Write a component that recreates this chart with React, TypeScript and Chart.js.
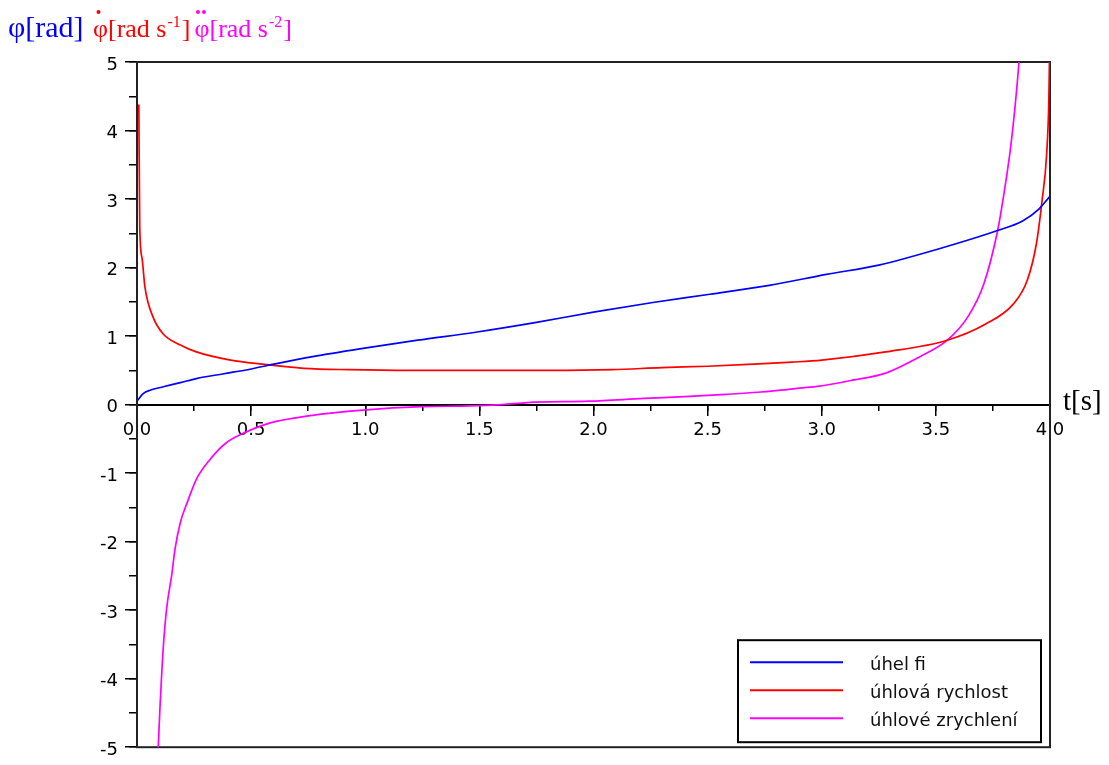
import React, { useEffect, useRef } from "react";
import { Chart, registerables } from "chart.js";

Chart.register(...registerables);

// ---- data ----
const phiT = [0, 0.027, 0.057, 0.115, 0.19, 0.26, 0.38, 0.5, 0.6, 0.77, 0.99, 1.23, 1.49, 1.75, 2.0, 2.26, 2.51, 2.77, 3.02, 3.255, 3.5, 3.77, 3.88, 3.95, 4.0];
const phiV = [0.05, 0.16, 0.21, 0.26, 0.32, 0.38, 0.45, 0.52, 0.59, 0.7, 0.82, 0.94, 1.06, 1.2, 1.35, 1.49, 1.61, 1.74, 1.9, 2.04, 2.26, 2.54, 2.68, 2.85, 3.04];

const omegaT = [0.008, 0.012, 0.022, 0.035, 0.07, 0.115, 0.19, 0.26, 0.41, 0.55, 0.73, 0.93, 1.2, 1.5, 1.8, 2.08, 2.3, 2.5, 2.7, 2.87, 3.0, 3.28, 3.55, 3.72, 3.84, 3.9, 3.94, 3.965, 3.985, 3.995, 4.0];
const omegaV = [4.38, 2.6, 2.14, 1.71, 1.28, 1.03, 0.87, 0.77, 0.65, 0.59, 0.53, 0.51, 0.5, 0.5, 0.5, 0.51, 0.54, 0.56, 0.59, 0.62, 0.65, 0.77, 0.94, 1.18, 1.47, 1.81, 2.34, 2.97, 3.64, 4.46, 5.6];

const alphaT = [0.085, 0.093, 0.1, 0.115, 0.13, 0.152, 0.167, 0.19, 0.22, 0.26, 0.32, 0.39, 0.465, 0.58, 0.76, 0.99, 1.25, 1.46, 1.6, 1.71, 1.98, 2.22, 2.42, 2.58, 2.72, 2.82, 2.9, 2.99, 3.14, 3.28, 3.43, 3.55, 3.64, 3.71, 3.77, 3.795, 3.825, 3.846, 3.864, 3.875];
const alphaV = [-5.7, -5.0, -4.47, -3.55, -2.97, -2.49, -2.1, -1.72, -1.43, -1.09, -0.8, -0.56, -0.42, -0.27, -0.16, -0.08, -0.03, -0.02, 0.0, 0.03, 0.05, 0.09, 0.12, 0.15, 0.18, 0.21, 0.24, 0.27, 0.36, 0.46, 0.7, 0.94, 1.28, 1.76, 2.53, 3.01, 3.69, 4.32, 5.0, 5.6];

const seriesLabels = ["úhel fi", "úhlová rychlost", "úhlové zrychlení"];
const PHI_COLOR = "#0000ff";
const OMEGA_COLOR = "#ff0000";
const ALPHA_COLOR = "#ff00ff";

const X_MIN = 0;
const X_MAX = 4;
const Y_MIN = -5;
const Y_MAX = 5;

const toPoints = (ts: number[], vs: number[]) => ts.map((t, i) => ({ x: t, y: vs[i] }));

const TICK_FONT = { family: "DejaVu Sans", size: 18 };

const framePlugin = {
  id: "frame",
  beforeDatasetsDraw(chart: any) {
    const { left, right, top, bottom } = chart.chartArea;
    const ctx = chart.ctx;
    ctx.save();
    ctx.strokeStyle = "#222";
    ctx.lineWidth = 2;
    ctx.strokeRect(left, top, right - left, bottom - top);
    ctx.restore();
  },
};

const titlePlugin = {
  id: "titles",
  afterDraw(chart: any) {
    const ctx = chart.ctx;
    const { right } = chart.chartArea;
    const y0 = chart.scales.y.getPixelForValue(0);
    ctx.save();
    ctx.textAlign = "left";
    ctx.textBaseline = "alphabetic";
    const base = 37;
    ctx.font = '30px "Liberation Serif"';
    ctx.fillStyle = PHI_COLOR;
    ctx.fillText("φ[rad]", 8, base);

    const drawUnit = (dots: number[], sup: string, color: string, startX: number) => {
      let cx = startX;
      ctx.fillStyle = color;
      ctx.font = '26px "Liberation Serif"';
      const phiW = ctx.measureText("φ").width;
      ctx.fillText("φ", cx, base);
      dots.forEach((dx) => {
        ctx.beginPath();
        ctx.arc(cx + phiW / 2 + dx, 12, 2, 0, Math.PI * 2);
        ctx.fill();
      });
      cx += phiW;
      const main = "[rad s";
      ctx.fillText(main, cx, base);
      cx += ctx.measureText(main).width + 1;
      ctx.font = '16px "Liberation Serif"';
      ctx.fillText(sup, cx, base - 10);
      cx += ctx.measureText(sup).width + 1;
      ctx.font = '26px "Liberation Serif"';
      ctx.fillText("]", cx, base);
      cx += ctx.measureText("]").width;
      return cx;
    };
    const end = drawUnit([-2], "-1", OMEGA_COLOR, 93);
    drawUnit([-4, 2], "-2", ALPHA_COLOR, end + 4);

    ctx.font = '29px "Liberation Serif"';
    ctx.fillStyle = "#000";
    ctx.fillText("t[s]", right + 13, y0 + 5);
    ctx.restore();
  },
};

const legendPlugin = {
  id: "boxLegend",
  afterDraw(chart: any) {
    const ctx = chart.ctx;
    const { right, bottom } = chart.chartArea;
    const bx = right - 312;
    const by = bottom - 107;
    const bw = 303;
    const bh = 102;
    ctx.save();
    ctx.fillStyle = "#fff";
    ctx.fillRect(bx, by, bw, bh);
    ctx.strokeStyle = "#000";
    ctx.lineWidth = 2;
    ctx.strokeRect(bx, by, bw, bh);
    ctx.font = '18px "DejaVu Sans"';
    ctx.textAlign = "left";
    ctx.textBaseline = "alphabetic";
    chart.data.datasets.forEach((ds: any, i: number) => {
      const ry = by + 22 + i * 28;
      ctx.strokeStyle = ds.borderColor;
      ctx.lineWidth = 2;
      ctx.beginPath();
      ctx.moveTo(bx + 12, ry);
      ctx.lineTo(bx + 105, ry);
      ctx.stroke();
      ctx.fillStyle = "#111";
      ctx.fillText(ds.label, bx + 132, ry + 8);
    });
    ctx.restore();
  },
};

export default function App() {
  const canvasRef = useRef<HTMLCanvasElement | null>(null);

  useEffect(() => {
    const canvas = canvasRef.current;
    if (!canvas) return;
    const common = {
      borderWidth: 1.7,
      pointRadius: 0,
      fill: false,
      cubicInterpolationMode: "monotone" as const,
    };
    const chart = new Chart(canvas, {
      type: "line",
      data: {
        datasets: [
          { ...common, label: seriesLabels[0], data: toPoints(phiT, phiV), borderColor: PHI_COLOR },
          { ...common, label: seriesLabels[1], data: toPoints(omegaT, omegaV), borderColor: OMEGA_COLOR },
          { ...common, label: seriesLabels[2], data: toPoints(alphaT, alphaV), borderColor: ALPHA_COLOR },
        ],
      },
      options: {
        responsive: false,
        animation: false,
        devicePixelRatio: 1,
        layout: { padding: { left: 0, top: 62, right: 59, bottom: 13 } },
        plugins: { legend: { display: false }, tooltip: { enabled: false } },
        scales: {
          x: {
            type: "linear",
            position: { y: 0 } as any,
            min: X_MIN,
            max: X_MAX,
            z: 1,
            border: { display: true, color: "#000", width: 2 },
            grid: { drawOnChartArea: false, drawTicks: true, tickLength: 10, color: "#000", lineWidth: 1.5 },
            ticks: {
              stepSize: 0.5,
              padding: 5,
              color: "#000",
              font: TICK_FONT,
              maxRotation: 0,
              autoSkip: false,
              callback: (v: any) => Number(v).toFixed(1),
            },
          },
          x2: {
            type: "linear",
            axis: "x",
            position: { y: 0 } as any,
            min: X_MIN,
            max: X_MAX,
            z: 1,
            border: { display: false },
            grid: { drawOnChartArea: false, drawTicks: true, tickLength: 6, color: "#000", lineWidth: 1.5 },
            ticks: { display: false, stepSize: 0.25, autoSkip: false },
          },
          y: {
            type: "linear",
            position: "left",
            min: Y_MIN,
            max: Y_MAX,
            weight: 1,
            afterFit: (s: any) => {
              s.width = 137;
            },
            border: { display: true, color: "#000", width: 2 },
            grid: { drawOnChartArea: false, drawTicks: true, tickLength: 12, color: "#000", lineWidth: 1.5 },
            ticks: { stepSize: 1, padding: 7, labelOffset: 3, color: "#000", font: TICK_FONT, autoSkip: false },
          },
          y2: {
            type: "linear",
            axis: "y",
            position: "left",
            min: Y_MIN,
            max: Y_MAX,
            weight: 0,
            afterFit: (s: any) => {
              s.width = 0;
            },
            border: { display: false },
            grid: { drawOnChartArea: false, drawTicks: true, tickLength: 8, color: "#000", lineWidth: 1.5 },
            ticks: { display: false, stepSize: 0.5, autoSkip: false },
          },
        },
      } as any,
      plugins: [framePlugin, titlePlugin, legendPlugin],
    });
    return () => chart.destroy();
  }, []);

  return (
    <div style={{ position: "absolute", left: 0, top: 0, width: 1109, height: 765, background: "#fff" }}>
      <canvas ref={canvasRef} width={1109} height={765} style={{ display: "block", width: 1109, height: 765 }} />
    </div>
  );
}
